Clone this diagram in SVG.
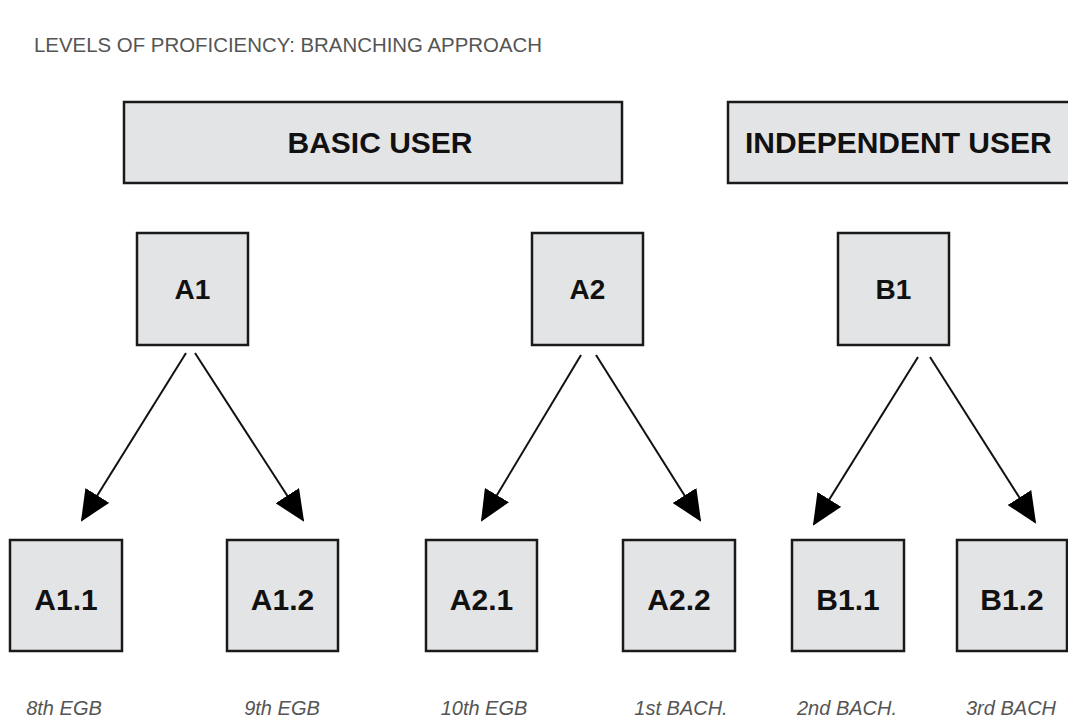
<svg xmlns="http://www.w3.org/2000/svg" width="1068" height="725" viewBox="0 0 1068 725">
<style>
.box{fill:#e3e4e6;stroke:#1a1a1a;stroke-width:2.5}
.hdr{font-family:"Liberation Sans",Arial,sans-serif;font-weight:bold;font-size:30px;fill:#111}
.top{font-family:"Liberation Sans",Arial,sans-serif;font-weight:bold;font-size:28px;fill:#111;text-anchor:middle}
.sub{font-family:"Liberation Sans",Arial,sans-serif;font-weight:bold;font-size:30px;fill:#111;text-anchor:middle}
.lbl{font-family:"Liberation Sans",Arial,sans-serif;font-style:italic;font-size:20px;fill:#555;text-anchor:middle}
.title{font-family:"Liberation Sans",Arial,sans-serif;font-size:20px;fill:#555}
.conn{stroke:#111;stroke-width:2;fill:none;marker-end:url(#ah)}
</style>
<defs>
<marker id="ah" markerUnits="userSpaceOnUse" viewBox="0 0 31 28" refX="29" refY="14" markerWidth="31" markerHeight="28" orient="auto">
<path d="M0,0 L31,14 L0,28 z" fill="#000"/>
</marker>
</defs>
<rect width="1068" height="725" fill="#fff"/>
<text class="title" x="34" y="52" textLength="508" lengthAdjust="spacingAndGlyphs">LEVELS OF PROFICIENCY:  BRANCHING APPROACH</text>

<g id="basic-user"><rect class="box" x="124" y="102" width="498" height="81"/><text class="hdr" x="380" y="153" text-anchor="middle">BASIC USER</text></g>
<g id="independent-user"><rect class="box" x="728" y="102" width="360" height="81"/><text class="hdr" x="745" y="153">INDEPENDENT USER</text></g>

<g id="A1"><rect class="box" x="137" y="233" width="111" height="112"/><text class="top" x="192.5" y="299">A1</text></g>
<g id="A2"><rect class="box" x="532" y="233" width="111" height="112"/><text class="top" x="587.5" y="299">A2</text></g>
<g id="B1"><rect class="box" x="838" y="233" width="111" height="112"/><text class="top" x="893.5" y="299">B1</text></g>

<g id="A1.1"><rect class="box" x="10" y="540" width="112" height="111"/><text class="sub" x="66" y="610">A1.1</text><text class="lbl" x="64" y="715">8th EGB</text></g>
<g id="A1.2"><rect class="box" x="227" y="540" width="111" height="111"/><text class="sub" x="282.5" y="610">A1.2</text><text class="lbl" x="282" y="715">9th EGB</text></g>
<g id="A2.1"><rect class="box" x="426" y="540" width="111" height="111"/><text class="sub" x="481.5" y="610">A2.1</text><text class="lbl" x="484" y="715">10th EGB</text></g>
<g id="A2.2"><rect class="box" x="623" y="540" width="112" height="111"/><text class="sub" x="679" y="610">A2.2</text><text class="lbl" x="681" y="715">1st BACH.</text></g>
<g id="B1.1"><rect class="box" x="792" y="540" width="112" height="111"/><text class="sub" x="848" y="610">B1.1</text><text class="lbl" x="847" y="715">2nd BACH.</text></g>
<g id="B1.2"><rect class="box" x="957" y="540" width="110" height="111"/><text class="sub" x="1012" y="610">B1.2</text><text class="lbl" x="1011" y="715">3rd BACH</text></g>

<g id="connectors">
<line class="conn" x1="186" y1="353" x2="82" y2="520"/>
<line class="conn" x1="195" y1="353" x2="303" y2="520"/>
<line class="conn" x1="581" y1="355" x2="482" y2="520"/>
<line class="conn" x1="596" y1="355" x2="700" y2="520"/>
<line class="conn" x1="918" y1="357" x2="814" y2="524"/>
<line class="conn" x1="930" y1="357" x2="1035" y2="522"/>
</g>
</svg>
